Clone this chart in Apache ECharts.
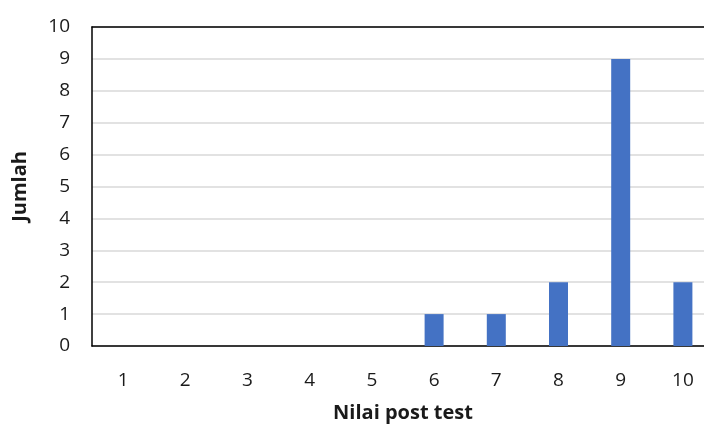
<!DOCTYPE html>
<html><head><meta charset="utf-8">
<script src="https://cdn.jsdelivr.net/npm/echarts@6/dist/echarts.min.js"></script>
<style>html,body{margin:0;padding:0;background:#fff}#c{width:704px;height:427px}</style>
</head><body><div id="c"></div>
<script>
const categories = ['1','2','3','4','5','6','7','8','9','10'];
const values = [0,0,0,0,0,1,1,2,9,2];
const yTicks = {min:0, max:10, interval:1};
const xName = 'Nilai post test';
const yName = 'Jumlah';
const font = '"Open Sans", "Liberation Sans", sans-serif';
const chart = echarts.init(document.getElementById('c'), null, {renderer:'canvas'});
chart.setOption({
  animation:false,
  grid:{left:92, top:27, right:-10, bottom:81, outerBoundsMode:'none', containLabel:false, show:false},
  xAxis:[{type:'category', data:categories,
    axisLine:{show:true, lineStyle:{color:'#000', width:1.5}},
    axisTick:{show:false},
    axisLabel:{color:'#1a1a1a', fontSize:19, fontFamily:font, margin:25},
    name:xName, nameLocation:'middle', nameGap:57,
    nameTextStyle:{color:'#1a1a1a', fontSize:20, fontWeight:'bold', fontFamily:font}},
    {type:'category', data:categories, position:'top',
    axisLine:{show:true, lineStyle:{color:'#000', width:1.5}},
    axisTick:{show:false}, axisLabel:{show:false}}],
  yAxis:{type:'value', min:yTicks.min, max:yTicks.max, interval:yTicks.interval,
    axisLine:{show:true, lineStyle:{color:'#000', width:1.5}},
    axisTick:{show:false},
    splitLine:{lineStyle:{color:'#d9d9d9', width:1.5}},
    axisLabel:{color:'#1a1a1a', fontSize:19, fontFamily:font, margin:22},
    name:yName, nameLocation:'middle', nameGap:62, nameRotate:90,
    nameTextStyle:{color:'#1a1a1a', fontSize:20, fontWeight:'bold', fontFamily:font}},
  series:[{type:'bar', data:values, barWidth:19, itemStyle:{color:'#4472c4'}}]
});
</script></body></html>
